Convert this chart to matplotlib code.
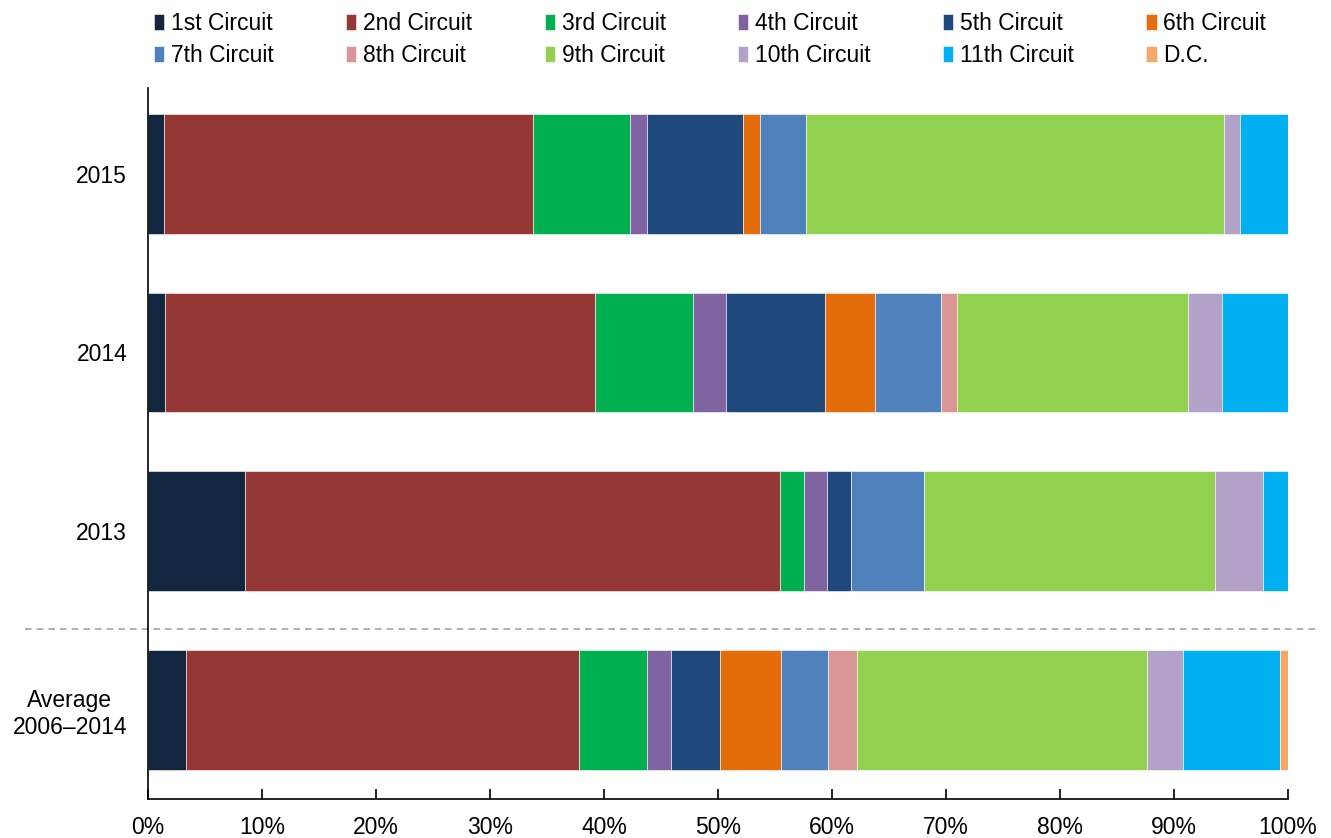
import matplotlib
matplotlib.use("Agg")
import matplotlib.pyplot as plt
import numpy as np

plt.rcParams['font.family'] = ['Liberation Sans', 'DejaVu Sans']

groups = ["Average\n2006–2014", "2013", "2014", "2015"]
circuits = ["1st Circuit", "2nd Circuit", "3rd Circuit", "4th Circuit", "5th Circuit", "6th Circuit",
            "7th Circuit", "8th Circuit", "9th Circuit", "10th Circuit", "11th Circuit", "D.C."]
colors = ["#12263F", "#953735", "#00B050", "#8064A2", "#1F497D", "#E46C0A",
          "#4F81BD", "#D99694", "#92D050", "#B3A2C7", "#00B0F0", "#F7A669"]

# share of cases (%) per circuit, rows follow groups order
avg_0614 = [3.3, 34.5, 5.95, 2.15, 4.3, 5.35, 4.1, 2.5, 25.45, 3.15, 8.55, 0.7]
y2013 = [8.5, 46.9, 2.1, 2.05, 2.15, 0.0, 6.4, 0.0, 25.5, 4.25, 2.15, 0.0]
y2014 = [1.5, 37.7, 8.65, 2.85, 8.65, 4.4, 5.8, 1.45, 20.25, 2.95, 5.8, 0.0]
y2015 = [1.4, 32.35, 8.55, 1.5, 8.4, 1.45, 4.05, 0.0, 36.7, 1.4, 4.2, 0.0]

data = np.array([avg_0614, y2013, y2014, y2015])

fig = plt.figure(figsize=(13.31, 8.38), dpi=100)
ax = fig.add_axes([148 / 1331, 39 / 838, 1140 / 1331, 711 / 838])

ypos = np.arange(len(groups))
left = np.zeros(len(groups))
handles = []
for i in range(len(circuits)):
    b = ax.barh(ypos, data[:, i], left=left, height=0.67, color=colors[i],
                edgecolor="white", linewidth=0.4, label=circuits[i])
    handles.append(b)
    left += data[:, i]

ax.set_xlim(0, 100)
ax.set_ylim(-0.5, 3.48)
ax.set_xticks(np.arange(0, 101, 10))
ax.set_xticklabels([f"{v}%" for v in range(0, 101, 10)], fontsize=16.5)
ax.set_yticks(ypos)
ax.set_yticklabels(groups, fontsize=16.5, multialignment="center")
ax.tick_params(axis="x", direction="in", length=7, width=1.2, pad=12)
ax.tick_params(axis="y", length=0, pad=15)
for s in ["top", "right"]:
    ax.spines[s].set_visible(False)
ax.spines["left"].set_linewidth(1.2)
ax.spines["bottom"].set_linewidth(1.2)

# dashed separator between the average and the yearly bars
ax.axhline(0.45, xmin=-0.108, xmax=1.026, color="#A6A6A6", linestyle=(0, (4, 3)),
           linewidth=1.2, clip_on=False)

# legend fills column-wise, so interleave the two rows
order = []
for c in range(6):
    order += [c, c + 6]
fig.legend([handles[k] for k in order], [circuits[k] for k in order],
           loc="upper left", bbox_to_anchor=(142 / 1331, 1.0), ncol=6, frameon=False,
           fontsize=16.5, handlelength=0.45, handleheight=0.7, handletextpad=0.3,
           columnspacing=3.15, labelspacing=0.4, borderaxespad=0.12)

fig.savefig("out.png", dpi=100)
